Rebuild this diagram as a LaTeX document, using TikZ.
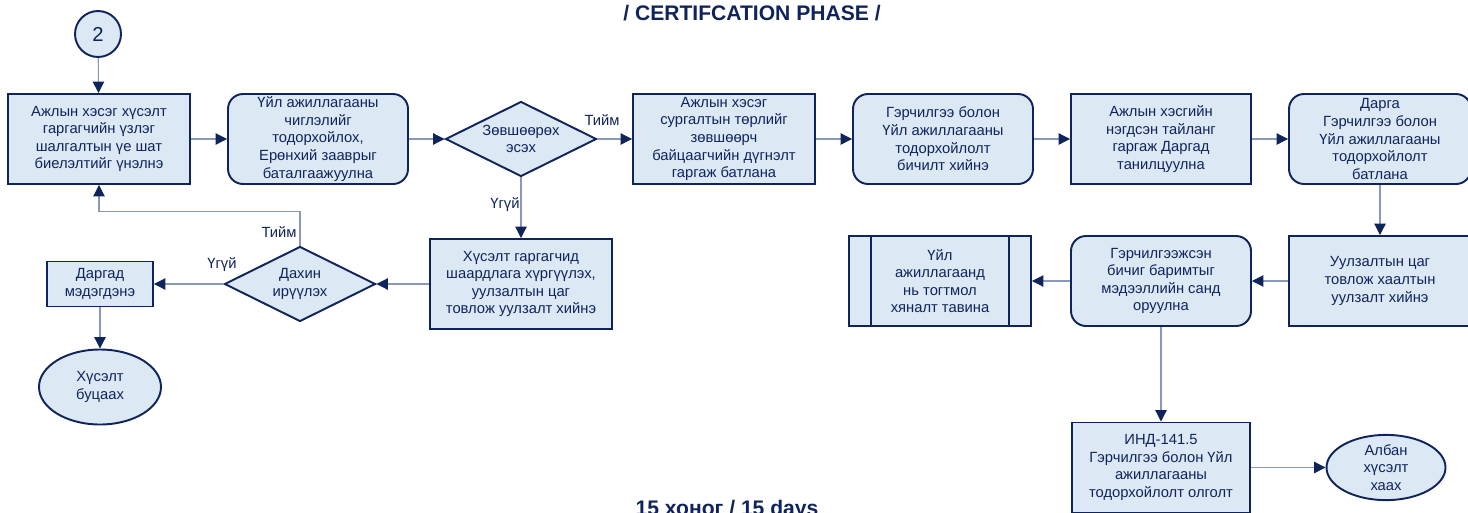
\documentclass[tikz,border=0pt]{standalone}
\usepackage{fontspec}
\setmainfont{Liberation Sans}
\usepackage{tikz}
\usetikzlibrary{arrows.meta,shapes,positioning}
\usepackage{xcolor}
\definecolor{dfnavy}{RGB}{16,36,92}
\definecolor{dffill}{RGB}{221,232,245}
\definecolor{dfline}{RGB}{140,152,185}
\tikzstyle{arrow} = [line width=0.6pt,draw=dfline,-{Triangle[length=6.5pt,width=6.5pt,color=dfnavy]}]

\begin{document}
\begin{tikzpicture}[
    every node/.style={text=dfnavy, font=\fontsize{8.4}{10}\selectfont, align=center},
    task/.style={rectangle, draw=dfnavy, line width=1.1pt, fill=dffill, minimum width=3.64cm, minimum height=1.8cm, inner sep=1pt},
    soft/.style={task, rounded corners=0.3cm, minimum width=3.6cm},
    ask/.style={diamond, shape aspect=2, draw=dfnavy, line width=1.1pt, fill=dffill, minimum width=3.02cm, minimum height=1.5cm, inner sep=0pt},
    ending/.style={ellipse, draw=dfnavy, line width=1.1pt, fill=dffill, inner sep=0pt},
    answer/.style={inner sep=1pt}]

\useasboundingbox (0,0) rectangle (29.36,-10.24);

% Headings
\node[font=\bfseries\fontsize{12}{14}\selectfont] (title) at (15.04,-0.26) {/ CERTIFCATION PHASE /};
\node[font=\bfseries\fontsize{12}{14}\selectfont, anchor=base] (days) at (14.54,-10.3) {15 хоног / 15 days};

% Upper row
\node[circle, draw=dfnavy, line width=1.1pt, fill=dffill, minimum size=0.92cm, inner sep=0pt, font=\fontsize{11.5}{13}\selectfont] (start) at (1.96,-0.68) {2};
\node[task] (review) at (1.98,-2.78) {Ажлын хэсэг хүсэлт\\гаргагчийн үзлэг\\шалгалтын үе шат\\биелэлтийг үнэлнэ};
\node[soft] (scope) at (6.36,-2.78) {Үйл ажиллагааны\\чиглэлийг\\тодорхойлох,\\Ерөнхий зааврыг\\баталгаажуулна};
\node[ask] (approve) at (10.42,-2.78) {Зөвшөөрөх\\эсэх};
\node[task] (verdict) at (14.48,-2.78) {Ажлын хэсэг\\сургалтын төрлийг\\зөвшөөрч\\байцаагчийн дүгнэлт\\гаргаж батлана};
\node[soft] (write) at (18.86,-2.78) {Гэрчилгээ болон\\Үйл ажиллагааны\\тодорхойлолт\\бичилт хийнэ};
\node[task, minimum width=3.6cm] (report) at (23.22,-2.78) {Ажлын хэсгийн\\нэгдсэн тайланг\\гаргаж Даргад\\танилцуулна};
\node[soft, minimum width=3.64cm] (sign) at (27.6,-2.78) {Дарга\\Гэрчилгээ болон\\Үйл ажиллагааны\\тодорхойлолт\\батлана};

% Right side, lower rows
\node[task] (closing) at (27.6,-5.62) {Уулзалтын цаг\\товлож хаалтын\\уулзалт хийнэ};
\node[soft] (archive) at (23.22,-5.62) {Гэрчилгээжсэн\\бичиг баримтыг\\мэдээллийн санд\\оруулна};
\node[task] (watch) at (18.8,-5.62) {Үйл\\ажиллагаанд\\нь тогтмол\\хяналт тавина};
\draw[draw=dfnavy, line width=1.1pt] ([xshift=0.46cm]watch.north west) -- ([xshift=0.46cm]watch.south west);
\draw[draw=dfnavy, line width=1.1pt] ([xshift=-0.46cm]watch.north east) -- ([xshift=-0.46cm]watch.south east);
\node[task, minimum width=3.56cm] (issue) at (23.22,-9.35) {ИНД-141.5\\Гэрчилгээ болон Үйл\\ажиллагааны\\тодорхойлолт олголт};
\node[ending, minimum width=2.38cm, minimum height=1.22cm] (close) at (27.72,-9.35) {Албан\\хүсэлт\\хаах};

% Left side, lower rows
\node[task] (demand) at (10.42,-5.68) {Хүсэлт гаргагчид\\шаардлага хүргүүлэх,\\уулзалтын цаг\\товлож уулзалт хийнэ};
\node[ask] (resend) at (6.0,-5.68) {Дахин\\ирүүлэх};
\node[task, minimum width=2.12cm, minimum height=0.9cm] (notify) at (2.0,-5.68) {Даргад\\мэдэгдэнэ};
\node[ending, minimum width=2.44cm, minimum height=1.5cm] (reject) at (2.0,-7.74) {Хүсэлт\\буцаах};

% Connectors
\draw[arrow] (start) -- (review);
\draw[arrow] (review) -- (scope);
\draw[arrow] (scope) -- (approve);
\draw[arrow] (approve) -- (verdict);
\draw[arrow] (verdict) -- (write);
\draw[arrow] (write) -- (report);
\draw[arrow] (report) -- (sign);
\draw[arrow] (sign) -- (closing);
\draw[arrow] (closing) -- (archive);
\draw[arrow] (archive) -- (watch);
\draw[arrow] (archive) -- (issue);
\draw[arrow] (issue) -- (close);
\draw[arrow] (approve) -- (demand);
\draw[arrow] (demand) -- (resend);
\draw[arrow] (resend) -- (notify);
\draw[arrow] (resend.north) -- ++(0,0.68) -| (review.south);
\draw[arrow] (notify) -- (reject);

% Answers
\node[answer] (yes1) at (12.04,-2.4) {Тийм};
\node[answer] (no1) at (10.1,-4.1) {Үгүй};
\node[answer] (yes2) at (5.58,-4.64) {Тийм};
\node[answer] (no2) at (4.44,-5.3) {Үгүй};

\end{tikzpicture}
\end{document}
